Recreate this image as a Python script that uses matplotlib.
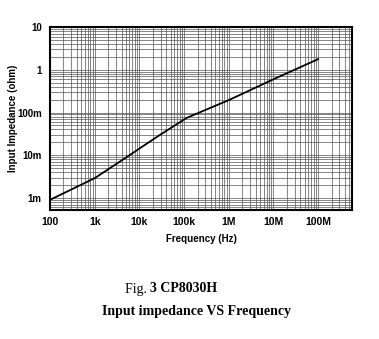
import numpy as np
import matplotlib
matplotlib.use("Agg")
import matplotlib.pyplot as plt
from matplotlib.ticker import LogLocator, FixedLocator, NullFormatter

# values
freq_hz = [100, 1e3, 4.3e3, 1e4, 2.9e4, 1.15e5, 2.3e5, 1e6, 1e7, 1e8]
impedance_ohm = [0.9e-3, 2.9e-3, 7.9e-3, 14.3e-3, 30e-3, 75e-3, 102e-3, 0.195, 0.6, 1.78]

xtick_vals = [1e2, 1e3, 1e4, 1e5, 1e6, 1e7, 1e8]
xtick_labels = ["100", "1k", "10k", "100k", "1M", "10M", "100M"]
ytick_vals = [1e-3, 1e-2, 1e-1, 1, 10]
ytick_labels = ["1m", "10m", "100m", "1", "10"]

fig = plt.figure(figsize=(3.79, 3.39), dpi=100)
ax = fig.add_axes([0.132, 0.381, 0.797, 0.539])

ax.plot(freq_hz, impedance_ohm, color="black", lw=1.3)
ax.set_xscale("log")
ax.set_yscale("log")
ax.set_xlim(100, 10 ** 8.76)
ax.set_ylim(10 ** -3.28, 10)

ax.xaxis.set_major_locator(FixedLocator(xtick_vals))
ax.yaxis.set_major_locator(FixedLocator(ytick_vals))
ax.xaxis.set_minor_locator(LogLocator(base=10, subs=np.arange(2, 10), numticks=20))
ax.yaxis.set_minor_locator(LogLocator(base=10, subs=np.arange(2, 10), numticks=20))
ax.xaxis.set_minor_formatter(NullFormatter())
ax.yaxis.set_minor_formatter(NullFormatter())
ax.set_xticklabels(xtick_labels, fontweight="bold", fontsize=7.5, family="Liberation Sans")
ax.set_yticklabels(ytick_labels, fontweight="bold", fontsize=7, family="Liberation Sans")
ax.tick_params(which="both", length=0)
ax.tick_params(axis="x", pad=5)
ax.tick_params(axis="y", pad=6)

ax.grid(True, which="both", color="#555555", lw=0.5)
for s in ax.spines.values():
    s.set_linewidth(1.5)

ax.set_xlabel("Frequency (Hz)", fontweight="bold", fontsize=7, family="Liberation Sans", labelpad=5)
ax.set_ylabel("Input Impedance (ohm)", fontweight="bold", fontsize=7, family="Liberation Sans")
ax.yaxis.set_label_coords(-0.105, 0.5)

# caption below the chart
t1 = fig.text(0.330, 1 - 289 / 339, "Fig. ", fontsize=10, family="Liberation Serif",
              va="center", ha="left")
ax.annotate("3 CP8030H", xy=(1, 0.5), xycoords=t1, xytext=(0, 0), textcoords="offset points",
            fontsize=10, family="Liberation Serif", fontweight="bold", va="center", ha="left",
            annotation_clip=False)
fig.text(0.518, 1 - 311 / 339, "Input impedance VS Frequency", fontsize=10, family="Liberation Serif",
         fontweight="bold", va="center", ha="center")

fig.savefig("out.png", dpi=100)
